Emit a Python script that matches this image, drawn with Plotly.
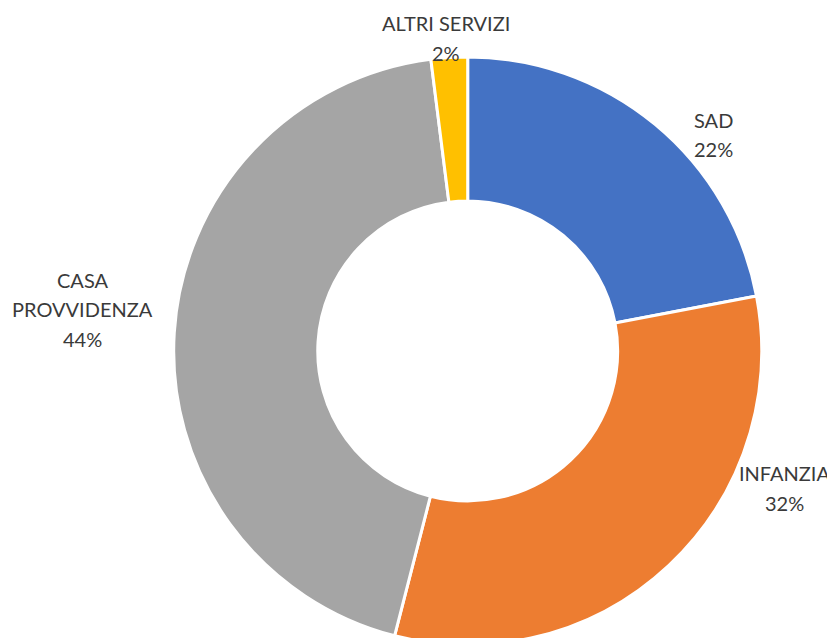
import plotly.graph_objects as go

# dati
labels = ["SAD", "INFANZIA", "CASA PROVVIDENZA", "ALTRI SERVIZI"]
values = [22, 32, 44, 2]
colors = ["#4472C4", "#ED7D31", "#A5A5A5", "#FFC000"]

W, H = 835, 638
OFF = 8  # margine del body nella pagina html

# centro delle etichette (pixel, prima riga) e passo tra le righe
label_pos = [(713, 120), (784, 473), (82, 280), (446, 23)]
LINE = 29.5

cx, cy, r = 467.7 - OFF, 351 - OFF, 294

fig = go.Figure()
fig.add_trace(go.Pie(
    labels=labels,
    values=values,
    hole=0.51,
    sort=False,
    direction="clockwise",
    rotation=0,
    textinfo="none",
    hoverinfo="label+percent",
    marker=dict(colors=colors, line=dict(color="white", width=3)),
    domain=dict(x=[(cx - r) / W, (cx + r) / W], y=[1 - (cy + r) / H, 1 - (cy - r) / H]),
    showlegend=False,
))

total = sum(values)
for lab, val, (px, py) in zip(labels, values, label_pos):
    lines = lab.replace("CASA ", "CASA\n").split("\n") + [f"{round(val / total * 100)}%"]
    for i, line in enumerate(lines):
        fig.add_annotation(
            x=(px - OFF) / W, y=1 - (py - OFF + i * LINE) / H,
            xref="paper", yref="paper",
            text=line, showarrow=False,
            xanchor="center", yanchor="middle", align="center",
            font=dict(family="Lato", size=20, color="#3a3a3a"),
        )

fig.update_layout(
    width=W, height=H,
    margin=dict(l=0, r=0, t=0, b=0),
    paper_bgcolor="white",
    plot_bgcolor="white",
)

fig.write_html("out.html")
